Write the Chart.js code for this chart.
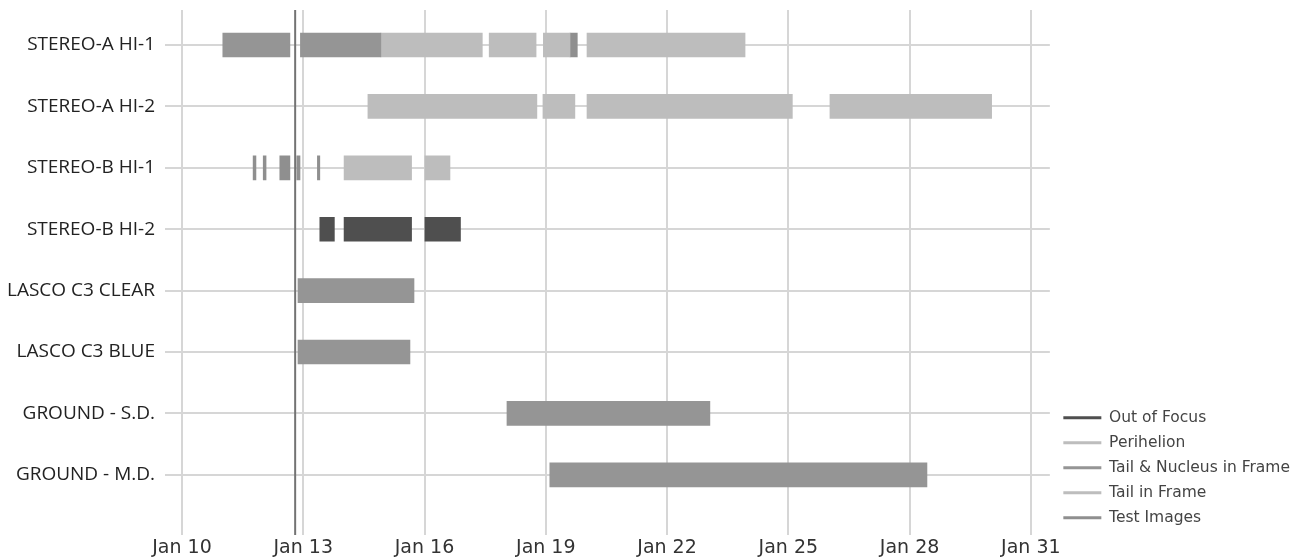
<!DOCTYPE html>
<html>
<head>
<meta charset="utf-8">
<title>Observation timeline</title>
<script src="https://cdn.jsdelivr.net/npm/chart.js@4/dist/chart.umd.min.js"></script>
<style>
    body { margin: 0; background: #ffffff; }
    #wrap { width: 1296px; height: 558px; position: relative; }
</style>
</head>
<body>
<div id="wrap"><canvas id="timeline"></canvas></div>
<script>
// instruments, top to bottom
const instruments = [
    'STEREO-A HI-1',
    'STEREO-A HI-2',
    'STEREO-B HI-1',
    'STEREO-B HI-2',
    'LASCO C3 CLEAR',
    'LASCO C3 BLUE',
    'GROUND - S.D.',
    'GROUND - M.D.'
];

// day of January shown on the x axis
const dayTicks = [10, 13, 16, 19, 22, 25, 28, 31];
const perihelionDay = 12.8;

// each entry: [row, start day, end day]
const outOfFocus = [
    [3, 13.41, 13.77],
    [3, 14.01, 15.68],
    [3, 16.01, 16.89]
];
const perihelion = [];
const tailAndNucleus = [
    [0, 11.01, 12.67],
    [0, 12.93, 14.92],
    [4, 12.87, 15.74],
    [5, 12.87, 15.64],
    [6, 18.04, 23.06],
    [7, 19.10, 28.43]
];
const tailInFrame = [
    [0, 14.92, 17.43],
    [0, 17.60, 18.76],
    [0, 18.94, 19.60],
    [0, 20.02, 23.93],
    [1, 14.60, 18.78],
    [1, 18.93, 19.72],
    [1, 20.02, 25.10],
    [1, 26.03, 30.03],
    [2, 14.01, 15.68],
    [2, 16.01, 16.63]
];
const testImages = [
    [0, 19.60, 19.78],
    [2, 11.76, 11.83],
    [2, 12.01, 12.08],
    [2, 12.42, 12.67],
    [2, 12.84, 12.92],
    [2, 13.35, 13.41]
];

function toBars(list) {
    return list.map(r => ({ x: [r[1], r[2]], y: r[0] }));
}

// vertical marker line at perihelion
const markerLine = {
    id: 'markerLine',
    afterDatasetsDraw(chart) {
        const x = chart.scales.x.getPixelForValue(perihelionDay);
        const area = chart.chartArea;
        const ctx = chart.ctx;
        ctx.save();
        ctx.strokeStyle = '#737373';
        ctx.lineWidth = 2;
        ctx.beginPath();
        ctx.moveTo(x, area.top);
        ctx.lineTo(x, area.bottom);
        ctx.stroke();
        ctx.restore();
    }
};

// legend sits a little above the bottom edge
const liftLegend = {
    id: 'liftLegend',
    afterLayout(chart) {
        chart.legend.top -= 23;
        chart.legend.bottom -= 23;
        chart.legend.left += 4;
        chart.legend.right += 4;
    }
};

document.addEventListener("DOMContentLoaded", function(){
    const canvas = document.getElementById('timeline');

    new Chart(canvas, {
        type: 'bar',
        data: {
            datasets: [
                { label: 'Out of Focus', data: toBars(outOfFocus), backgroundColor: '#4f4f4f' },
                { label: 'Perihelion', data: toBars(perihelion), backgroundColor: '#bdbdbd' },
                { label: 'Tail & Nucleus in Frame', data: toBars(tailAndNucleus), backgroundColor: '#959595' },
                { label: 'Tail in Frame', data: toBars(tailInFrame), backgroundColor: '#bdbdbd' },
                { label: 'Test Images', data: toBars(testImages), backgroundColor: '#8f8f8f' }
            ]
        },
        options: {
            indexAxis: 'y',
            responsive: true,
            maintainAspectRatio: false,
            animation: false,
            grouped: false,
            barThickness: 24,
            layout: {
                padding: { top: 10, right: 0, bottom: 0, left: 0 }
            },
            scales: {
                x: {
                    type: 'linear',
                    min: 9.58,
                    max: 31.47,
                    afterBuildTicks: function(scale) {
                        scale.ticks = dayTicks.map(d => ({ value: d }));
                    },
                    afterFit: function(scale) {
                        scale.height = 23;
                    },
                    ticks: {
                        color: '#333333',
                        padding: 2,
                        maxRotation: 0,
                        font: { family: 'DejaVu Sans', size: 19 },
                        callback: function(value) {
                            return 'Jan ' + value;
                        }
                    },
                    grid: {
                        color: '#d6d6d6',
                        lineWidth: 2,
                        drawTicks: false
                    },
                    border: { display: false }
                },
                y: {
                    type: 'linear',
                    reverse: true,
                    offset: false,
                    min: -0.57,
                    max: 7.98,
                    afterBuildTicks: function(scale) {
                        scale.ticks = instruments.map((name, i) => ({ value: i }));
                    },
                    afterFit: function(scale) {
                        scale.width = 165;
                        scale.paddingTop = 0;
                        scale.paddingBottom = 0;
                    },
                    ticks: {
                        color: '#222222',
                        padding: 10,
                        font: { family: 'Open Sans', size: 19 },
                        callback: function(value) {
                            return instruments[value];
                        }
                    },
                    grid: {
                        offset: false,
                        color: '#d6d6d6',
                        lineWidth: 2,
                        drawTicks: false
                    },
                    border: { display: false }
                }
            },
            plugins: {
                legend: {
                    position: 'right',
                    align: 'end',
                    labels: {
                        boxWidth: 38,
                        boxHeight: 3,
                        padding: 9.5,
                        color: '#444444',
                        font: { family: 'DejaVu Sans', size: 15.5 }
                    }
                },
                tooltip: { enabled: false }
            }
        },
        plugins: [markerLine, liftLegend]
    });
});
</script>
</body>
</html>
